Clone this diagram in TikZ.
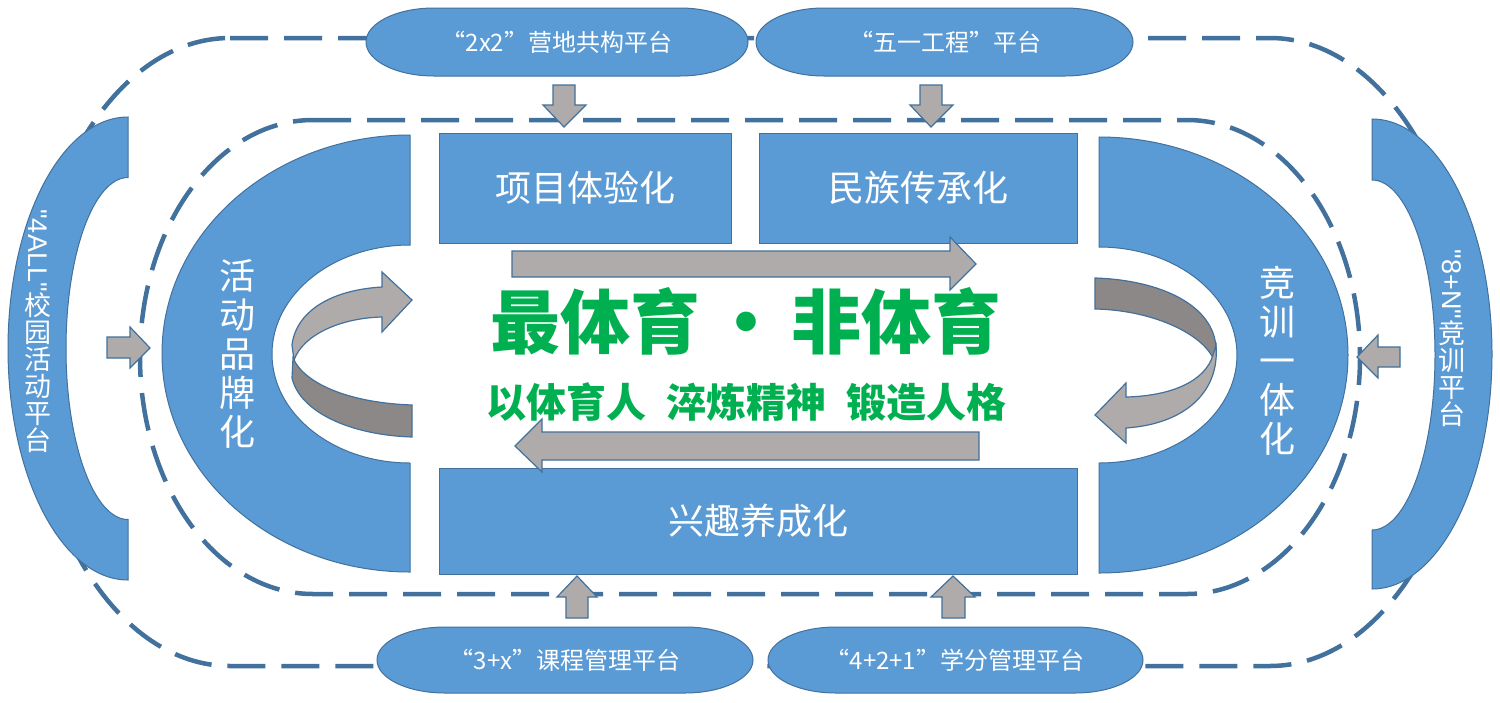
\documentclass[tikz,border=0pt]{standalone}
\usepackage{fontspec}
\usepackage{graphicx}
\setmainfont{Noto Sans CJK SC}
\newfontfamily\sidelatin{Liberation Sans}[Ligatures=TeXOff]
\definecolor{tileblue}{HTML}{5B9BD5}
\definecolor{edgeblue}{HTML}{41719C}
\definecolor{lightgrey}{HTML}{AFABAB}
\definecolor{darkgrey}{HTML}{8C8888}
\definecolor{mottogreen}{HTML}{00B050}
\newcommand{\pillrx}{68}
\newcommand{\pillry}{34}
\tikzset{
  blueshape/.style={fill=tileblue, draw=edgeblue, line width=1pt},
  trackline/.style={draw=edgeblue, line width=4.5pt, dash pattern=on 38pt off 16pt},
  greyarrow/.style={fill=lightgrey, draw=edgeblue, line width=1.2pt, line join=miter},
  pilltext/.style={text=white, font=\fontsize{24}{26}\selectfont},
  tiletext/.style={text=white, font=\fontsize{36}{39}\selectfont, align=center},
  sidetext/.style={text=white, font=\fontsize{27}{27}\selectfont, align=center}
}

\begin{document}
\begin{tikzpicture}[x=1pt, y=-1pt]

        \fill[white] (0,0) rectangle (1500,702);
        \useasboundingbox (0,0) rectangle (1500,702);

        % the two dashed tracks
        \draw[trackline] (230,38) -- (1270,38) arc[start angle=270, end angle=450, x radius=200, y radius=314]
            -- (230,666) arc[start angle=90, end angle=270, x radius=200, y radius=314] -- cycle;
        \draw[trackline] (313,120) -- (1187,120) arc[start angle=270, end angle=450, x radius=173, y radius=237]
            -- (313,594) arc[start angle=90, end angle=270, x radius=173, y radius=237] -- cycle;

        % outer crescents
        \draw[blueshape] (128,117) arc[start angle=270, end angle=90, x radius=120, y radius=231.5]
            -- (128,519.5) arc[start angle=90, end angle=270, x radius=62, y radius=171] -- cycle;
        \draw[blueshape] (1372,119) arc[start angle=270, end angle=450, x radius=120, y radius=235]
            -- (1372,530) arc[start angle=450, end angle=270, x radius=63, y radius=175] -- cycle;

        % inner half rings
        \draw[blueshape] (410,135) arc[start angle=270, end angle=90, x radius=248, y radius=218.5]
            -- (410,463) arc[start angle=90, end angle=270, x radius=138, y radius=109] -- cycle;
        \draw[blueshape] (1099,137) arc[start angle=270, end angle=450, x radius=249, y radius=218]
            -- (1099,463) arc[start angle=450, end angle=270, x radius=138, y radius=108] -- cycle;

        % tiles
        \draw[blueshape] (439,133) rectangle (731,243);
        \draw[blueshape] (759,133) rectangle (1077,243);
        \draw[blueshape] (439,468) rectangle (1077,574);

        % platforms
        \draw[blueshape] (434,8) -- (680,8) arc[start angle=270, end angle=450, x radius=\pillrx, y radius=\pillry]
            -- (434,76) arc[start angle=90, end angle=270, x radius=\pillrx, y radius=\pillry] -- cycle;
        \draw[blueshape] (824,8) -- (1065,8) arc[start angle=270, end angle=450, x radius=\pillrx, y radius=\pillry]
            -- (824,76) arc[start angle=90, end angle=270, x radius=\pillrx, y radius=\pillry] -- cycle;
        \draw[blueshape] (445,627) -- (685,627) arc[start angle=270, end angle=450, x radius=\pillrx, y radius=33]
            -- (445,693) arc[start angle=90, end angle=270, x radius=\pillrx, y radius=33] -- cycle;
        \draw[blueshape] (836,627) -- (1075,627) arc[start angle=270, end angle=450, x radius=\pillrx, y radius=33]
            -- (836,693) arc[start angle=90, end angle=270, x radius=\pillrx, y radius=33] -- cycle;

        % small block arrows
        \draw[greyarrow] (553,85) -- (575,85) -- (575,105) -- (586,105) -- (564,127) -- (543,105) -- (553,105) -- cycle;
        \draw[greyarrow] (920,85) -- (942,85) -- (942,105) -- (953,105) -- (931,127) -- (910,105) -- (920,105) -- cycle;
        \draw[greyarrow] (566,618) -- (588,618) -- (588,597) -- (597,597) -- (577,576) -- (557,597) -- (566,597) -- cycle;
        \draw[greyarrow] (942,618) -- (965,618) -- (965,597) -- (975,597) -- (953,576) -- (931,597) -- (942,597) -- cycle;
        \draw[greyarrow] (107,337) -- (130,337) -- (130,327) -- (150,348) -- (130,368) -- (130,358) -- (107,358) -- cycle;
        \draw[greyarrow] (1400,347) -- (1378,347) -- (1378,335) -- (1357,357) -- (1378,378) -- (1378,367) -- (1400,367) -- cycle;

        % big straight arrows
        \draw[greyarrow] (512,251) -- (950,251) -- (950,237) -- (976,264) -- (950,290) -- (950,277) -- (512,277) -- cycle;
        \draw[greyarrow] (979,432) -- (542,432) -- (542,419) -- (515,446) -- (542,472) -- (542,460) -- (979,460) -- cycle;

        % turning arrows
        \draw[greyarrow, fill=darkgrey] (292,378) .. controls (300,412) and (350,435) .. (412,437)
            -- (412,405) .. controls (352,403) and (305,385) .. (293,358) -- cycle;
        \draw[greyarrow] (292,345) .. controls (296,312) and (330,290) .. (382,287) -- (382,272) -- (412,300)
            -- (382,332) -- (382,317) .. controls (340,318) and (303,335) .. (294,360) -- cycle;
        \draw[greyarrow, fill=darkgrey] (1095,278) .. controls (1160,280) and (1214,305) .. (1216,348)
            -- (1213,358) .. controls (1200,332) and (1150,310) .. (1095,309) -- cycle;
        \draw[greyarrow] (1213,355) .. controls (1205,382) and (1170,396) .. (1126,397) -- (1126,383) -- (1095,415)
            -- (1126,443) -- (1126,428) .. controls (1185,424) and (1220,392) .. (1216,345) -- cycle;

        % labels
        \node[pilltext] (campplat) at (557,42) {“2x2”营地共构平台};
        \node[pilltext] (fiveplat) at (945,42) {“五一工程”平台};
        \node[pilltext] (courseplat) at (565,660) {“3+x”课程管理平台};
        \node[pilltext] (creditplat) at (955,660) {“4+2+1”学分管理平台};

        \node[tiletext] (projtile) at (585,188) {项目体验化};
        \node[tiletext] (ethtile) at (918,188) {民族传承化};
        \node[tiletext] (interesttile) at (758,521) {兴趣养成化};

        \node[tiletext] (brandring) at (237,354) {活\\动\\品\\牌\\化};
        \node[tiletext] (compring) at (1277,361) {竞\\训\\一\\体\\化};

        \node[sidetext] (campusside) at (38,331) {\rotatebox{-90}{\sidelatin "4ALL"}\\校\\园\\活\\动\\平\\台};
        \node[sidetext] (trainside) at (1452,338) {\rotatebox{-90}{\sidelatin "8+N"}\\竞\\训\\平\\台};

        \node[text=mottogreen, font=\fontsize{70}{80}\selectfont\bfseries] (title) at (746,321)
            {最体育\makebox[1.3em]{·}非体育};
        \node[text=mottogreen, font=\fontsize{40}{44}\selectfont\bfseries] (motto) at (746,402)
            {以体育人\hspace{0.5em}淬炼精神\hspace{0.5em}锻造人格};

    \end{tikzpicture}
\end{document}
